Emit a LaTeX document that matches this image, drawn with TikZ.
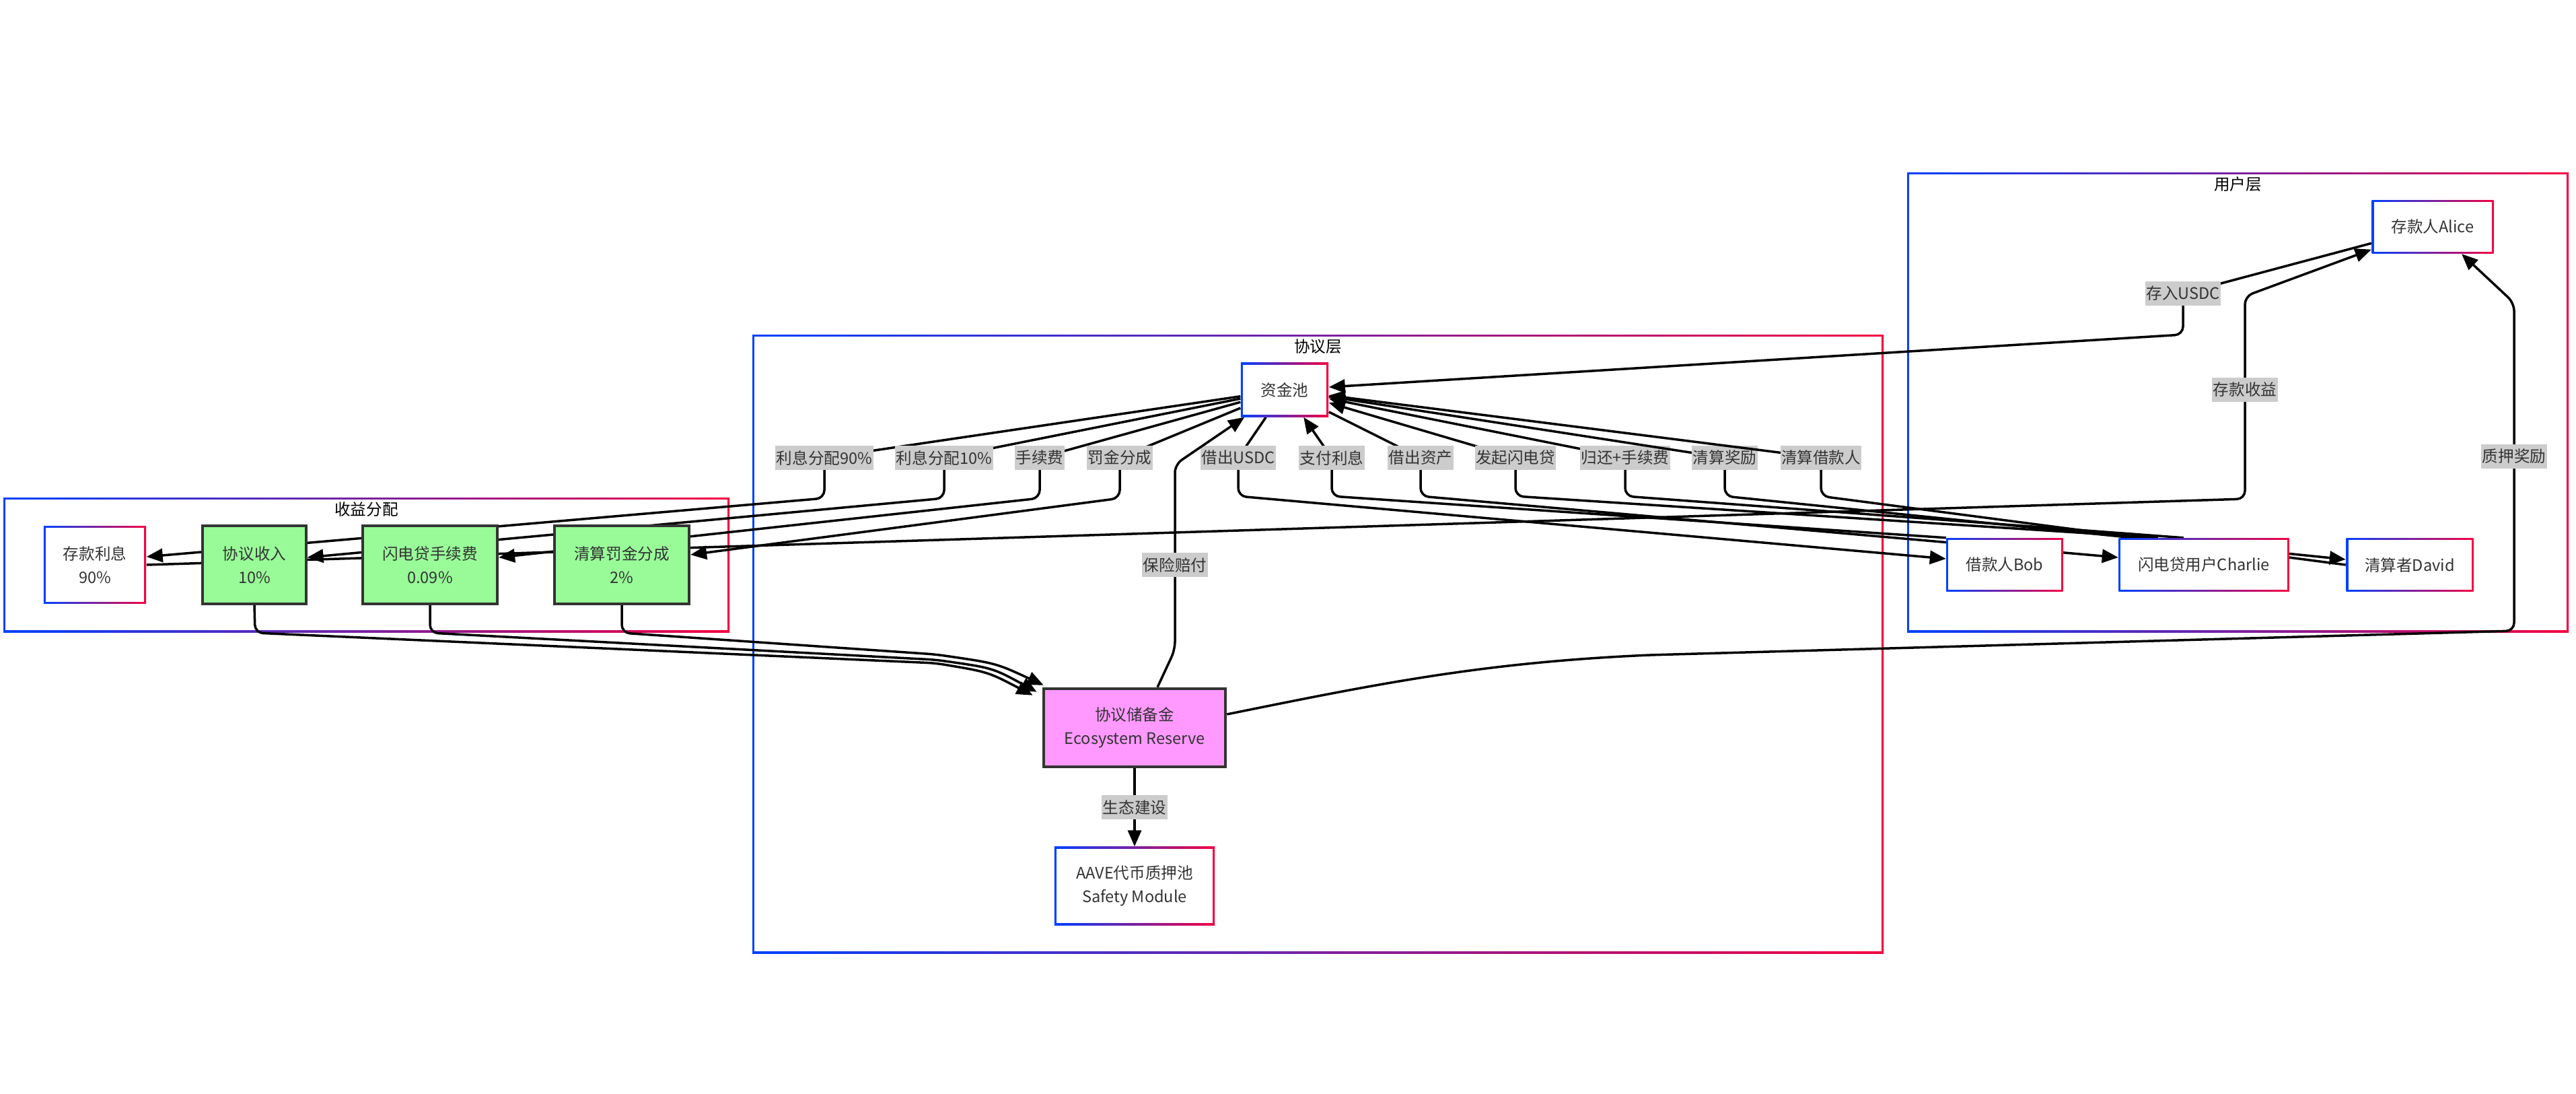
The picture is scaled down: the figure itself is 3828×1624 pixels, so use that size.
\documentclass[tikz,border=0pt]{standalone}
\usepackage{fontspec}
\setmainfont{Noto Sans CJK SC}
\usepackage{tikz}
\usetikzlibrary{arrows.meta, positioning, fit, backgrounds}
\usepackage{xcolor}
\definecolor{gradBlue}{RGB}{0,64,255}
\definecolor{gradRed}{RGB}{245,0,65}
\definecolor{txtGray}{RGB}{51,51,51}
\definecolor{lblGray}{RGB}{204,204,204}
\definecolor{feeGreen}{RGB}{152,251,152}
\definecolor{resPink}{RGB}{255,153,255}
\tikzset{
    font=\fontsize{6.7pt}{10pt}\selectfont,
    >={Triangle[length=0.24cm, width=0.2cm]},
    % Colors
    gradBorder/.style={path picture={
        \shade[left color=gradBlue, right color=gradRed]
            (path picture bounding box.south west) rectangle (path picture bounding box.north east);
        \fill[white] ([shift={(#1,#1)}]path picture bounding box.south west)
            rectangle ([shift={(-#1,-#1)}]path picture bounding box.north east);}},
    gradBorder/.default=0.03cm,
    % Shapes
    userBox/.style={rectangle, gradBorder, text=txtGray, align=center, inner sep=0pt},
    feeBox/.style={rectangle, draw=txtGray, line width=0.04cm, fill=feeGreen, text=txtGray,
                   align=center, minimum width=2cm, minimum height=1.15cm},
    resBox/.style={rectangle, draw=txtGray, line width=0.045cm, fill=resPink, text=txtGray,
                   align=center, minimum width=2.7cm, minimum height=1.16cm},
    grp/.style={rectangle, gradBorder, inner sep=0pt},
    grpTitle/.style={text=black, inner sep=0pt},
    % Flow & Labels
    flow/.style={->, line width=0.035cm, black, rounded corners=0.12cm},
    lbl/.style={sharp corners, fill=lblGray, text=txtGray, inner xsep=0.015cm, inner ysep=0pt, minimum height=0.36cm}
}

\begin{document}
\begin{tikzpicture}[x=0.01cm, y=-0.01cm]
\useasboundingbox (0,0) rectangle (3828,1624);

% 收益分配
\node[userBox, minimum width=1.52cm, minimum height=1.15cm] (dep) at (141,839) {存款利息\\90\%};
\node[feeBox, minimum width=1.53cm] (inc) at (378,839) {协议收入\\10\%};
\node[feeBox] (flf) at (639,839) {闪电贷手续费\\0.09\%};
\node[feeBox] (liq) at (924,839) {清算罚金分成\\2\%};

% 协议层
\node[userBox, minimum width=1.3cm, minimum height=0.8cm] (pool) at (1909,579) {资金池};
\node[resBox] (res) at (1686,1081) {协议储备金\\Ecosystem Reserve};
\node[userBox, minimum width=2.38cm, minimum height=1.16cm] (sm) at (1686,1316) {AAVE代币质押池\\Safety Module};

% 用户层
\node[userBox, minimum width=1.81cm, minimum height=0.79cm] (alice) at (3615,337) {存款人Alice};
\node[userBox, minimum width=1.73cm, minimum height=0.79cm] (bob) at (2979,839) {借款人Bob};
\node[userBox, minimum width=2.53cm, minimum height=0.79cm] (charlie) at (3275,839) {闪电贷用户Charlie};
\node[userBox, minimum width=1.89cm, minimum height=0.79cm] (david) at (3581,839) {清算者David};

% Groupes
\begin{scope}[on background layer]
\node[grp, fit={(5,739) (1084,939)}] (revGrp) {};
\node[grp, fit={(1118,497) (2799,1416)}] (protoGrp) {};
\node[grp, fit={(2834,256) (3817,939)}] (userGrp) {};
\end{scope}
\node[grpTitle, below=0.07cm of revGrp.north] (revTitle) {收益分配};
\node[grpTitle, below=0.07cm of protoGrp.north] (protoTitle) {协议层};
\node[grpTitle, below=0.07cm of userGrp.north] (userTitle) {用户层};

\begin{scope}[on background layer]
% 利息与手续费分配
\draw[flow] (pool) -- (1225,680) node[lbl] (lDep) {利息分配90\%} -- (1225,740) -- ([yshift=0.12cm]dep.east);
\draw[flow] (pool) -- (1403,680) node[lbl] (lInc) {利息分配10\%} -- (1403,740) -- ([yshift=0.11cm]inc.east);
\draw[flow] (pool) -- (1545,680) node[lbl] (lFlf) {手续费} -- (1545,740) -- ([yshift=0.11cm]flf.east);
\draw[flow] (pool) -- (1664,680) node[lbl] (lLiq) {罚金分成} -- (1664,740) -- ([yshift=0.15cm]liq.east);

% 用户交互
\draw[flow] (pool) -- (1840,680) node[lbl] (lLend) {借出USDC} -- (1840,737) -- ([yshift=0.09cm]bob.west);
\draw[flow] (bob.north west) -- (1979,737) -- (1979,680) node[lbl] (lPay) {支付利息} -- (pool);
\draw[flow] (pool) -- (2111,680) node[lbl] (lAsset) {借出资产} -- (2111,737) -- ([yshift=0.11cm]charlie.west);
\draw[flow] ([xshift=0.59cm]charlie.north west) -- (2252,737) -- (2252,680) node[lbl] (lFlash) {发起闪电贷} -- (pool);
\draw[flow] ([xshift=0.97cm]charlie.north west) -- (2415,737) -- (2415,680) node[lbl] (lRepay) {归还+手续费} -- (pool);
\draw[flow] (pool) -- (2563,680) node[lbl] (lBonus) {清算奖励} -- (2563,737) -- ([yshift=0.08cm]david.west);
\draw[flow] (david.west) -- (2706,737) -- (2706,680) node[lbl] (lLiqB) {清算借款人} -- (pool);
\draw[flow] (alice) -- (3244,436) node[lbl] (lDeposit) {存入USDC} -- (3244,497) -- (pool);
\draw[flow] (dep.east) -- (3336,741) -- (3336,579) node[lbl] (lYield) {存款收益} -- (3336,440) -- (alice);

% 储备金
\draw[flow] (liq.south) -- (924,940) -- (1390,972) .. controls (1480,985) .. ([shift={(0.02cm,0.03cm)}]res.north west);
\draw[flow] (flf.south) -- (639,940) -- (1390,980) .. controls (1475,992) .. ([shift={(-0.08cm,-0.07cm)}]res.north west);
\draw[flow] (inc.south) -- (379,940) -- (1390,985) .. controls (1468,998) .. ([shift={(-0.14cm,-0.12cm)}]res.north west);
\draw[flow] ([xshift=0.34cm]res.north) -- (1746,965) -- (1746,839) node[lbl] (lIns) {保险赔付} -- (1746,690) -- (pool);
\draw[flow] (res) -- node[lbl] (lEco) {生态建设} (sm);
\draw[flow] ([yshift=0.2cm]res.east) .. controls (2050,1015) and (2200,985) .. (2450,973) -- (3736,937)
    -- (3736,678) node[lbl] (lStake) {质押奖励} -- (3736,450) -- (alice);
\end{scope}

\end{tikzpicture}
\end{document}
